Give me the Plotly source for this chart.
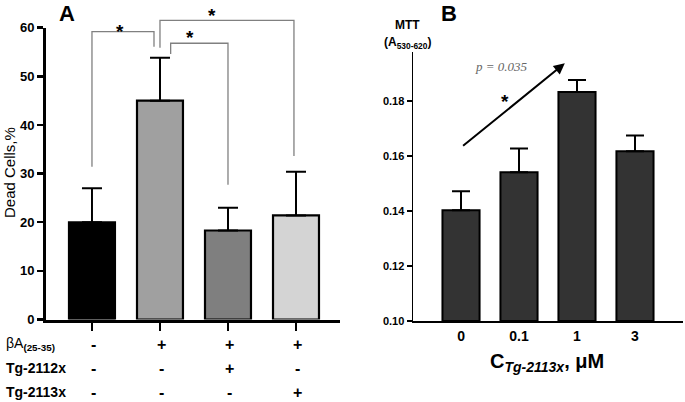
import plotly.graph_objects as go

W, H = 685, 402
FONT = "Liberation Sans, Arial, sans-serif"

# ---------------- data ----------------
groups_A = [0, 1, 2, 3]
dead_cells = [20.0, 45.0, 18.3, 21.4]
dead_cells_err_top = [27.0, 53.8, 23.0, 30.4]
colors_A = ["#000000", "#a0a0a0", "#7f7f7f", "#d4d4d4"]
row_betaA = ["-", "+", "+", "+"]
row_tg2112 = ["-", "-", "+", "-"]
row_tg2113 = ["-", "-", "-", "+"]
yticks_A = [0, 10, 20, 30, 40, 50, 60]

conc_labels_B = ["0", "0.1", "1", "3"]
mtt = [0.1403, 0.1541, 0.1833, 0.1618]
mtt_err_top = [0.1472, 0.1628, 0.1877, 0.1675]
yticks_B = [0.10, 0.12, 0.14, 0.16, 0.18]

# significance brackets panel A: (x_left, x_right, left_leg_bottom, right_leg_bottom, top)
brackets_A = [
    (0.0, 0.912, 31.4, 56.1, 59.2),
    (1.0, 2.97, 55.9, 33.6, 61.5),
    (1.157, 2.0, 54.6, 27.7, 56.8),
]
# star positions for each bracket (group units, value units)
stars_A = [(0.41, 60.2), (1.77, 63.4), (1.44, 59.0)]

# ---------------- geometry ----------------
A_XPX, A_YPX = (46, 340), (319.5, 27.7)
A_XR, A_YR = (-0.676, 3.647), (0, 60)
B_XPX, B_YPX = (413, 683), (321, 51.7)
B_XR, B_YR = (-0.828, 3.828), (0.10, 0.198)


def dom_x(px):
    return [px[0] / W, px[1] / W]


def dom_y(py):
    return [1 - py[0] / H, 1 - py[1] / H]


def to_paper(v, rng, px, is_y):
    p = px[0] + (v - rng[0]) / (rng[1] - rng[0]) * (px[1] - px[0])
    return 1 - p / H if is_y else p / W


def Ax(i):
    return to_paper(i, A_XR, A_XPX, False)


def Ay(v):
    return to_paper(v, A_YR, A_YPX, True)


def Bx(i):
    return to_paper(i, B_XR, B_XPX, False)


def By(v):
    return to_paper(v, B_YR, B_YPX, True)


def txt(x, y, text, size, color="black", family=FONT, xanchor="center", **kw):
    d = dict(x=x, y=y, xref="paper", yref="paper", text=text, showarrow=False,
             xanchor=xanchor, yanchor="middle", font=dict(size=size, family=family, color=color))
    d.update(kw)
    return d


STAR_DROP = 4.5 / H  # asterisk glyph sits above the text box middle

fig = go.Figure()

fig.add_trace(go.Bar(
    x=groups_A, y=dead_cells, width=0.676,
    marker=dict(color=colors_A, line=dict(color="black", width=2.2)),
    error_y=dict(type="data", symmetric=False,
                 array=[e - v for e, v in zip(dead_cells_err_top, dead_cells)],
                 arrayminus=[0] * 4, thickness=2, width=10, color="black"),
    xaxis="x", yaxis="y", showlegend=False,
))

fig.add_trace(go.Bar(
    x=[0, 1, 2, 3], y=[m - B_YR[0] for m in mtt], base=B_YR[0], width=0.64,
    marker=dict(color="#333333", line=dict(color="black", width=2)),
    error_y=dict(type="data", symmetric=False,
                 array=[e - v for e, v in zip(mtt_err_top, mtt)],
                 arrayminus=[0] * 4, thickness=2, width=9, color="black"),
    xaxis="x2", yaxis="y2", showlegend=False,
))

shapes = []
annotations = []

# brackets
for (xl, xr, bl, br, top), (sx, sy) in zip(brackets_A, stars_A):
    path = (f"M {Ax(xl)} {Ay(bl)} L {Ax(xl)} {Ay(top)} "
            f"L {Ax(xr)} {Ay(top)} L {Ax(xr)} {Ay(br)}")
    shapes.append(dict(type="path", path=path, xref="paper", yref="paper",
                       line=dict(color="#808080", width=1.3)))
    annotations.append(txt(Ax(sx), Ay(sy) - STAR_DROP, "<b>*</b>", 19))

# row labels
row_y = [344, 368, 392]
row_names = ["βA<sub><b>(25-35)</b></sub>", "<b>Tg-2112x</b>", "<b>Tg-2113x</b>"]
for ry, name, signs in zip(row_y, row_names, [row_betaA, row_tg2112, row_tg2113]):
    annotations.append(txt(4 / W, 1 - ry / H, name, 14, xanchor="left"))
    for i, s in enumerate(signs):
        annotations.append(txt(Ax(i) + 2 / W, 1 - ry / H, f"<b>{s}</b>", 16))

# panel labels and titles
annotations += [
    txt(67 / W, 1 - 13 / H, "<b>A</b>", 22),
    txt(449 / W, 1 - 13 / H, "<b>B</b>", 22),
    txt(9 / W, 1 - 173 / H, "Dead Cells,%", 15, textangle=-90),
    txt(407 / W, 1 - 25 / H, "<b>MTT</b>", 12),
    txt(407 / W, 1 - 43 / H, "<b>(A<sub>530-620</sub>)</b>", 12),
    txt(547 / W, 1 - 362 / H, "<b>C<sub><i>Tg-2113x</i></sub>, μM</b>", 20),
    txt(Bx(0.70), By(0.1925), "<i>p = 0.035</i>", 13,
        color="#666666", family="Liberation Serif, Times New Roman, serif"),
    txt(Bx(0.76), By(0.1814) - STAR_DROP, "<b>*</b>", 19),
]

# trend arrow in B
annotations.append(dict(
    x=Bx(1.79), y=By(0.1938), xref="paper", yref="paper",
    ax=(Bx(0.01) - Bx(1.79)) * W, ay=-(By(0.1633) - By(0.1938)) * H,
    axref="pixel", ayref="pixel", text="", showarrow=True,
    arrowhead=2, arrowsize=1.1, arrowwidth=2, arrowcolor="black"))

axis_common = dict(showgrid=False, zeroline=False, linecolor="black", ticks="outside",
                   tickcolor="black", fixedrange=True, automargin=False, showline=True)

fig.update_layout(
    template="none",
    width=W, height=H, margin=dict(l=0, r=0, t=0, b=0, pad=0), autosize=False,
    paper_bgcolor="white", plot_bgcolor="white", showlegend=False,
    font=dict(family=FONT, color="black"),
    xaxis=dict(domain=dom_x(A_XPX), range=list(A_XR), anchor="y", linewidth=3,
               tickvals=groups_A, ticklen=8, tickwidth=2.5, showticklabels=False, **axis_common),
    yaxis=dict(domain=dom_y(A_YPX), range=list(A_YR), anchor="x", linewidth=3,
               tickvals=yticks_A, ticktext=[f"<b>{v}</b>" for v in yticks_A],
               ticklen=6, tickwidth=2.5,
               tickfont=dict(size=13, family=FONT, color="black"), **axis_common),
    xaxis2=dict(domain=dom_x(B_XPX), range=list(B_XR), anchor="y2", linewidth=2,
                tickvals=[0, 1, 2, 3], ticktext=[f"<b>{t}</b>" for t in conc_labels_B],
                ticklen=1, tickwidth=0.1, tickcolor="white",
                tickfont=dict(size=14, family=FONT, color="black"),
                **{k: v for k, v in axis_common.items() if k != "tickcolor"}),
    yaxis2=dict(domain=dom_y(B_YPX), range=list(B_YR), anchor="x2", linewidth=1.5,
                tickvals=yticks_B, ticktext=[f"<b>{v:.2f}</b>" for v in yticks_B],
                ticklen=5, tickwidth=1.5,
                tickfont=dict(size=11, family=FONT, color="black"), **axis_common),
    shapes=shapes, annotations=annotations,
)

fig.write_html("out.html", include_plotlyjs=True, config={"displayModeBar": False, "staticPlot": True},
               post_script="document.body.style.margin='0';document.body.style.overflow='hidden';")
